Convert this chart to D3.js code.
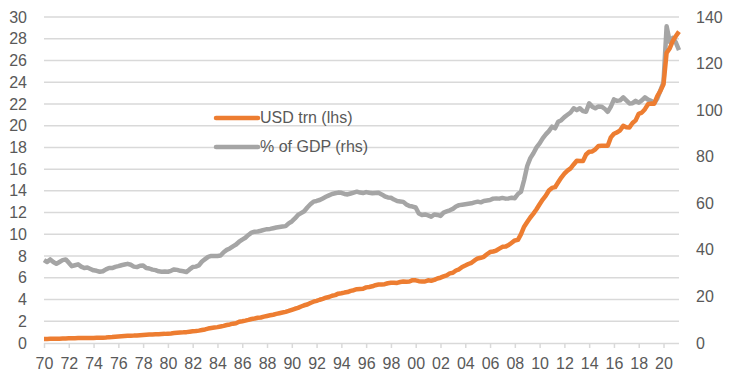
<!DOCTYPE html>
<html>
<head>
<meta charset="utf-8">
<script src="https://cdn.jsdelivr.net/npm/d3@7"></script>
<style>
  body { margin: 0; background: #fff; }
  svg text { font-family: "Liberation Sans", Arial, sans-serif; font-size: 16px; fill: #595959; }
</style>
</head>
<body>
<div id="chart"></div>
<script>
// quarterly data, first quarter = 1970Q1
const startYear = 1970;

// US federal debt, USD trn (lhs)
const debtUsd = [
  0.37, 0.37, 0.38, 0.39,   // 1970
  0.39, 0.40, 0.41, 0.42,
  0.43, 0.43, 0.44, 0.45,
  0.46, 0.46, 0.47, 0.47,
  0.47, 0.48, 0.48, 0.49,
  0.51, 0.54, 0.55, 0.58,   // 1975
  0.60, 0.62, 0.64, 0.66,
  0.67, 0.68, 0.70, 0.72,
  0.74, 0.76, 0.78, 0.79,
  0.81, 0.81, 0.83, 0.84,
  0.86, 0.88, 0.91, 0.94,   // 1980
  0.97, 0.98, 1.00, 1.04,
  1.08, 1.10, 1.14, 1.20,
  1.25, 1.33, 1.38, 1.42,
  1.46, 1.52, 1.58, 1.66,
  1.71, 1.78, 1.82, 1.95,   // 1985
  2.00, 2.06, 2.13, 2.21,
  2.25, 2.32, 2.35, 2.43,
  2.49, 2.55, 2.60, 2.68,
  2.74, 2.80, 2.86, 2.95,
  3.05, 3.15, 3.23, 3.36,   // 1990
  3.47, 3.54, 3.68, 3.80,
  3.88, 3.98, 4.07, 4.17,
  4.23, 4.35, 4.41, 4.54,
  4.58, 4.64, 4.69, 4.80,
  4.86, 4.95, 4.97, 4.99,   // 1995
  5.12, 5.16, 5.22, 5.32,
  5.38, 5.38, 5.41, 5.50,
  5.54, 5.55, 5.53, 5.61,
  5.65, 5.64, 5.66, 5.78,
  5.77, 5.69, 5.67, 5.66,   // 2000
  5.77, 5.73, 5.81, 5.94,
  6.01, 6.13, 6.23, 6.41,
  6.46, 6.67, 6.78, 7.00,
  7.13, 7.27, 7.38, 7.60,
  7.78, 7.84, 7.93, 8.17,   // 2005
  8.37, 8.42, 8.51, 8.68,
  8.85, 8.87, 9.01, 9.23,
  9.44, 9.49, 10.02, 10.70,
  11.13, 11.55, 11.91, 12.31,
  12.77, 13.20, 13.56, 14.03, // 2010
  14.27, 14.34, 14.79, 15.22,
  15.58, 15.86, 16.07, 16.43,
  16.77, 16.74, 16.74, 17.35,
  17.60, 17.63, 17.82, 18.14,
  18.15, 18.15, 18.15, 18.92, // 2015
  19.26, 19.38, 19.57, 19.98,
  19.85, 19.84, 20.24, 20.49,
  21.09, 21.20, 21.52, 21.97,
  22.03, 22.02, 22.72, 23.20,
  23.80, 26.70, 27.10, 27.80, // 2020
  28.25, 28.65
];

// US federal debt, % of GDP (rhs)
const debtPctGdp = [
  35.6, 34.8, 35.9, 34.8,   // 1970
  34.0, 34.8, 35.6, 35.9,
  34.5, 33.0, 33.4, 33.8,
  32.8, 32.2, 32.4, 31.8,
  31.2, 31.0, 30.6, 30.8,
  31.6, 32.2, 32.2, 32.7,   // 1975
  33.0, 33.4, 33.7, 34.0,
  33.6, 32.8, 32.6, 33.2,
  33.3, 32.2, 32.0, 31.5,
  31.3, 30.8, 30.6, 30.7,
  30.6, 31.0, 31.6, 31.4,   // 1980
  31.0, 30.8, 30.5, 31.6,
  32.6, 32.8, 33.3, 35.0,
  36.0, 37.0, 37.4, 37.4,
  37.4, 37.6, 39.0, 40.0,
  40.6, 41.5, 42.3, 43.5,   // 1985
  44.4, 45.2, 46.4, 47.4,
  47.8, 47.9, 48.2, 48.6,
  48.9, 49.0, 49.3, 49.6,
  49.8, 50.0, 50.2, 51.4,
  52.2, 53.5, 55.0, 55.8,   // 1990
  56.6, 58.2, 59.6, 60.7,
  61.0, 61.4, 62.1, 62.8,
  63.4, 64.0, 64.3, 64.6,
  64.5, 64.0, 63.8, 64.2,
  64.6, 65.0, 64.6, 64.4,   // 1995
  64.8, 64.5, 64.3, 64.4,
  64.5, 63.8, 63.0, 62.5,
  62.4, 61.6, 61.0, 60.8,
  60.6, 59.5, 58.8, 58.6,
  58.2, 55.6, 55.0, 55.2,   // 2000
  54.8, 54.2, 55.2, 55.0,
  54.6, 56.0, 56.5, 57.0,
  57.6, 58.6, 59.2, 59.4,
  59.6, 59.8, 60.0, 60.4,
  60.7, 60.4, 61.0, 61.2,   // 2005
  61.4, 62.0, 62.1, 62.0,
  62.3, 62.0, 62.1, 62.4,
  62.2, 64.0, 65.0, 70.0,
  76.0, 79.4, 81.5, 84.0,
  85.7, 87.9, 89.6, 91.0,   // 2010
  92.9, 92.2, 95.0, 95.7,
  97.0, 98.0, 99.0, 100.8,
  100.0, 100.8, 99.6, 99.3,
  102.9, 101.5, 100.8, 101.6,
  101.5, 100.6, 99.3, 101.5, // 2015
  104.6, 104.0, 104.2, 105.5,
  104.2, 102.9, 103.0, 104.0,
  103.2, 104.2, 105.5, 104.5,
  104.0, 103.0, 105.0, 108.5,
  112.0, 136.0, 129.4, 131.0, // 2020
  129.0, 125.8
];

const xTickYears = [1970, 1972, 1974, 1976, 1978, 1980, 1982, 1984, 1986, 1988,
  1990, 1992, 1994, 1996, 1998, 2000, 2002, 2004, 2006, 2008,
  2010, 2012, 2014, 2016, 2018, 2020];
const leftTicks = [0, 2, 4, 6, 8, 10, 12, 14, 16, 18, 20, 22, 24, 26, 28, 30];
const rightTicks = [0, 20, 40, 60, 80, 100, 120, 140];

const seriesNames = ["USD trn (lhs)", "% of GDP (rhs)"];
const seriesColors = ["#ED7D31", "#A5A5A5"];

const width = 730, height = 382;
const margin = {left: 44, right: 51, top: 17, bottom: 39};

const svg = d3.select("#chart").append("svg")
  .attr("width", width)
  .attr("height", height);

const x = d3.scaleLinear()
  .domain([startYear, startYear + (debtUsd.length - 1) / 4])
  .range([margin.left, width - margin.right]);

const yLeft = d3.scaleLinear().domain([0, 30]).range([height - margin.bottom, margin.top]);
const yRight = d3.scaleLinear().domain([0, 140]).range([height - margin.bottom, margin.top]);

// gridlines
svg.append("g")
  .selectAll("line")
  .data(leftTicks.slice(1))
  .enter().append("line")
  .attr("x1", margin.left)
  .attr("x2", width - margin.right)
  .attr("y1", d => yLeft(d))
  .attr("y2", d => yLeft(d))
  .attr("stroke", "#d9d9d9")
  .attr("stroke-width", 1.5);

// x axis
const xAxis = svg.append("g")
  .attr("transform", `translate(0, ${height - margin.bottom})`)
  .call(d3.axisBottom(x)
    .tickValues(xTickYears)
    .tickSize(5)
    .tickPadding(10)
    .tickFormat(d => String(d % 100).padStart(2, "0")));
xAxis.select(".domain").attr("stroke", "#d9d9d9").attr("stroke-width", 1.5)
  .attr("d", `M${margin.left},0.5H${width - margin.right}`);
xAxis.selectAll(".tick line").attr("stroke", "#d9d9d9").attr("stroke-width", 1.5);
xAxis.selectAll("text").attr("fill", "#595959").style("font-size", "16px");

// left axis
const leftAxis = svg.append("g")
  .attr("transform", `translate(${margin.left}, 0)`)
  .call(d3.axisLeft(yLeft).tickValues(leftTicks).tickSize(0).tickPadding(17));
leftAxis.select(".domain").remove();
leftAxis.selectAll("text").attr("fill", "#595959").style("font-size", "16px");

// right axis
const rightAxis = svg.append("g")
  .attr("transform", `translate(${width - margin.right}, 0)`)
  .call(d3.axisRight(yRight).tickValues(rightTicks).tickSize(0).tickPadding(17));
rightAxis.select(".domain").remove();
rightAxis.selectAll("text").attr("fill", "#595959").style("font-size", "16px");

// lines
const lineLeft = d3.line()
  .x((d, i) => x(startYear + i / 4))
  .y(d => yLeft(d));
const lineRight = d3.line()
  .x((d, i) => x(startYear + i / 4))
  .y(d => yRight(d));

svg.append("path")
  .datum(debtPctGdp)
  .attr("fill", "none")
  .attr("stroke", seriesColors[1])
  .attr("stroke-width", 4.5)
  .attr("stroke-linejoin", "round")
  .attr("d", lineRight);

svg.append("path")
  .datum(debtUsd)
  .attr("fill", "none")
  .attr("stroke", seriesColors[0])
  .attr("stroke-width", 4.5)
  .attr("stroke-linejoin", "round")
  .attr("d", lineLeft);

// legend
const legend = svg.append("g")
  .selectAll("g")
  .data(seriesNames)
  .enter().append("g")
  .attr("transform", (d, i) => `translate(216, ${118 + i * 29})`);

legend.append("line")
  .attr("x1", 0).attr("x2", 42)
  .attr("stroke", (d, i) => seriesColors[i])
  .attr("stroke-width", 4.5)
  .attr("stroke-linecap", "round");

legend.append("text")
  .attr("x", 44)
  .attr("y", 5)
  .text(d => d);
</script>
</body>
</html>
